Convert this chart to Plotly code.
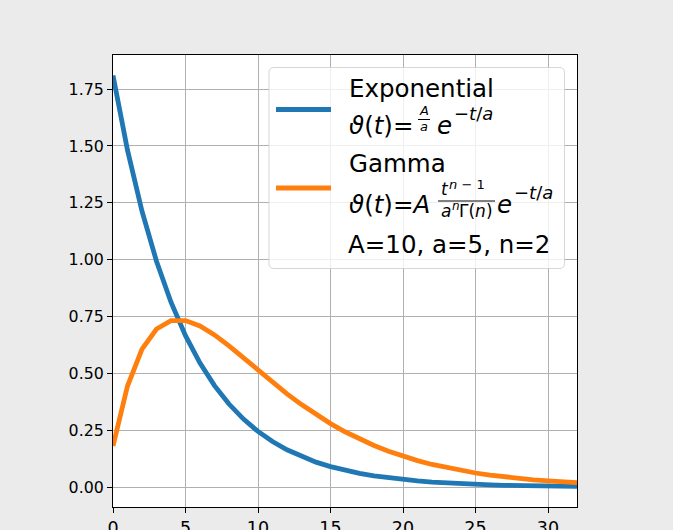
import plotly.graph_objects as go

# ---- data ----
t = list(range(0, 33))
exponential = [1.8097, 1.4816, 1.2131, 0.9932, 0.8131, 0.6657, 0.5451, 0.4463,
               0.3654, 0.2991, 0.2449, 0.2005, 0.1642, 0.1344, 0.1100, 0.0901,
               0.0738, 0.0604, 0.0494, 0.0405, 0.0331, 0.0271, 0.0222, 0.0182,
               0.0149, 0.0122, 0.0100, 0.0082, 0.0067, 0.0055, 0.0045, 0.0037,
               0.0030]
gamma = [0.1810, 0.4445, 0.6065, 0.6952, 0.7318, 0.7323, 0.7086, 0.6694,
         0.6211, 0.5684, 0.5143, 0.4612, 0.4104, 0.3629, 0.3191, 0.2793,
         0.2434, 0.2114, 0.1830, 0.1579, 0.1359, 0.1167, 0.0998, 0.0855,
         0.0730, 0.0622, 0.0529, 0.0450, 0.0381, 0.0323, 0.0274, 0.0231,
         0.0195]
x_ticks = [0, 5, 10, 15, 20, 25, 30]
y_ticks = [0.00, 0.25, 0.50, 0.75, 1.00, 1.25, 1.50, 1.75]
params_label = "A=10, a=5, n=2"

BLUE = "#1f77b4"
ORANGE = "#ff7f0e"
FONT = "DejaVu Sans"
LW = 4.8

W_FIG, H_FIG = 673, 530
L, T, W, H = 113, 55, 464, 452


def xp(px):
    return (px - L) / W


def yp(py):
    return (T + H - py) / H


fig = go.Figure()
fig.add_trace(go.Scatter(x=t, y=exponential, mode="lines", name="Exponential",
                         line=dict(color=BLUE, width=LW), showlegend=False))
fig.add_trace(go.Scatter(x=t, y=gamma, mode="lines", name="Gamma",
                         line=dict(color=ORANGE, width=LW), showlegend=False))

shapes = []
annotations = []


def txt(s, x_origin, baseline, size, anchor="left"):
    cy = baseline - 0.346 * size
    annotations.append(dict(text=s, x=xp(x_origin), y=yp(cy), xref="paper", yref="paper",
                            xanchor=anchor, yanchor="middle", showarrow=False,
                            borderpad=0,
                            font=dict(family=FONT, size=size, color="black")))


def hline(x0, x1, y, color, width):
    shapes.append(dict(type="line", xref="paper", yref="paper",
                       x0=xp(x0), x1=xp(x1), y0=yp(y), y1=yp(y),
                       line=dict(color=color, width=width), layer="above"))


# legend frame (rounded, semi-transparent like matplotlib)
bx0, bx1, by0, by1, r = 269, 564.5, 67.5, 268.5, 5
path = (f"M {xp(bx0 + r)},{yp(by0)} L {xp(bx1 - r)},{yp(by0)} "
        f"Q {xp(bx1)},{yp(by0)} {xp(bx1)},{yp(by0 + r)} "
        f"L {xp(bx1)},{yp(by1 - r)} Q {xp(bx1)},{yp(by1)} {xp(bx1 - r)},{yp(by1)} "
        f"L {xp(bx0 + r)},{yp(by1)} Q {xp(bx0)},{yp(by1)} {xp(bx0)},{yp(by1 - r)} "
        f"L {xp(bx0)},{yp(by0 + r)} Q {xp(bx0)},{yp(by0)} {xp(bx0 + r)},{yp(by0)} Z")
shapes.append(dict(type="path", xref="paper", yref="paper", path=path,
                   fillcolor="rgba(255,255,255,0.8)",
                   line=dict(color="rgba(204,204,204,0.8)", width=1), layer="above"))

# legend samples
hline(276, 331, 109.5, BLUE, LW)
hline(276, 331, 188, ORANGE, LW)

# entry 1
txt("Exponential", 347.5, 96.7, 24.5)
txt("<i>ϑ</i>(<i>t</i>)=", 348, 134, 24.5)
txt("<i>A</i>", 424, 115, 13, anchor="center")
hline(418, 430, 119.5, "black", 1)
txt("<i>a</i>", 424, 130.5, 13, anchor="center")
txt("<i>e</i>", 436, 134, 24.5)
txt("−<i>t</i>/<i>a</i>", 452.5, 120, 18)

# entry 2
txt("Gamma", 347.5, 171.7, 24.5)
txt("<i>ϑ</i>(<i>t</i>)=<i>A</i>", 348, 213, 24.5)
txt("<i>t</i>", 440, 195, 17)
txt("<i>n</i> − 1", 448, 189, 13)
hline(438, 495, 201, "black", 1)
txt("<i>a</i>", 439.5, 217, 17)
txt("<i>n</i>", 450.5, 210, 12)
txt("Γ(<i>n</i>)", 458, 217, 17)
txt("<i>e</i>", 496, 213, 24.5)
txt("−<i>t</i>/<i>a</i>", 512.5, 199, 18)

# entry 3 (parameters, no sample line)
txt(params_label, 347, 253.3, 24.5)

axis_common = dict(showline=True, linecolor="black", linewidth=1.1, mirror=True,
                   ticks="outside", ticklen=5, tickwidth=1.1, tickcolor="black",
                   showgrid=True, gridcolor="#b0b0b0", gridwidth=1.1, zeroline=False,
                   automargin=False)

fig.update_layout(
    width=W_FIG, height=H_FIG,
    margin=dict(l=L, r=W_FIG - L - W, t=T, b=H_FIG - T - H, pad=0, autoexpand=False),
    paper_bgcolor="#ebebeb", plot_bgcolor="white",
    showlegend=False,
    xaxis=dict(range=[0, 32], tickvals=x_ticks, ticktext=[str(v) for v in x_ticks],
               tickfont=dict(family=FONT, size=17.5, color="black"), **axis_common),
    yaxis=dict(range=[-0.0873, 1.9], tickvals=y_ticks,
               ticktext=[f"{v:.2f}" for v in y_ticks],
               tickfont=dict(family=FONT, size=15.8, color="black"), **axis_common),
    shapes=shapes, annotations=annotations,
)

fig.write_html("out.html")
